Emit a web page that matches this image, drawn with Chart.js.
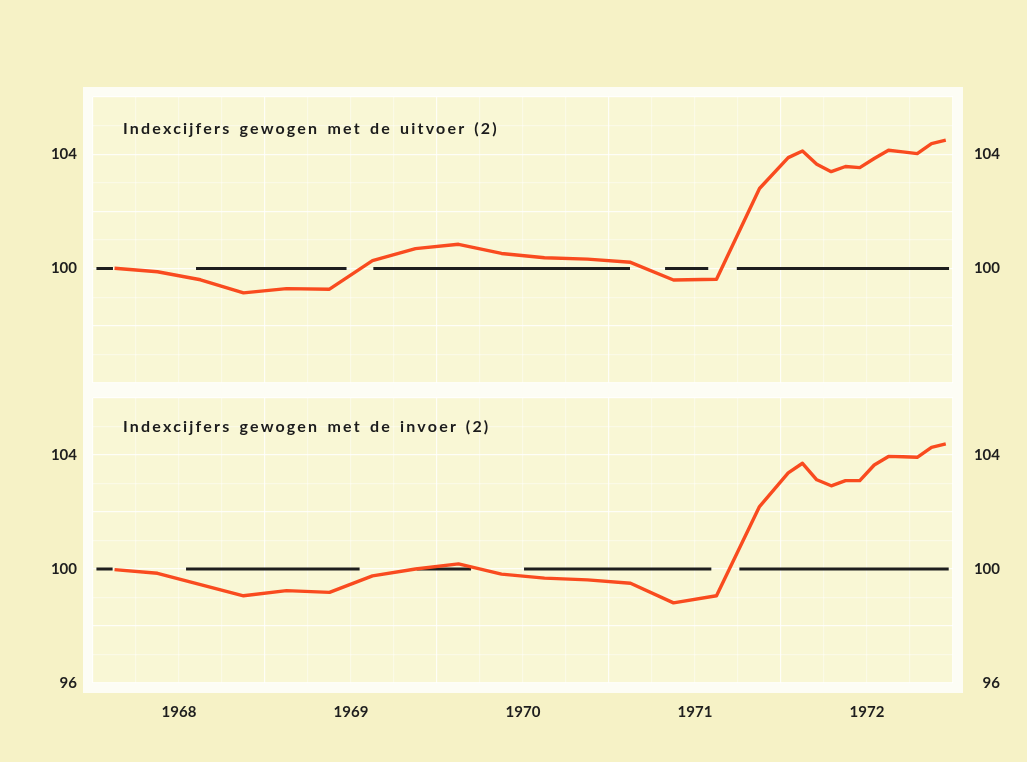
<!DOCTYPE html>
<html>
<head>
<meta charset="utf-8">
<script src="https://cdn.jsdelivr.net/npm/chart.js@4.4.1/dist/chart.umd.min.js"></script>
<style>
  html, body { margin: 0; padding: 0; }
  body { width: 1027px; height: 762px; background: #f6f2c6; position: relative; overflow: hidden; }
  .frame { position: absolute; left: 83px; top: 87px; width: 880px; height: 606px; background: #fdfdf5; }
  .panel { position: absolute; left: 93px; width: 860px; background: #f9f7d5; }
  #panelTop { top: 97px; height: 286px; }
  #panelBottom { top: 398px; height: 285px; }
  canvas { position: absolute; left: 0; }
  #chartTop { top: 80px; }
  #chartBottom { top: 380px; }
  .title { position: absolute; left: 123px; font: bold 16px Lato, sans-serif; line-height: 18px;
           letter-spacing: 2.2px; word-spacing: 2px; color: #1c1c1c; white-space: nowrap; }
  #titleTop { top: 119px; }
  #titleBottom { top: 417px; }
</style>
</head>
<body>
<div class="frame"></div>
<div class="panel" id="panelTop"></div>
<div class="panel" id="panelBottom"></div>
<canvas id="chartTop" width="1027" height="320"></canvas>
<canvas id="chartBottom" width="1027" height="382"></canvas>
<div class="title" id="titleTop">Indexcijfers gewogen met de uitvoer (2)</div>
<div class="title" id="titleBottom">Indexcijfers gewogen met de invoer (2)</div>
<script>
// time axis in decimal years: quarters 1968-1971, months 1972
const periods = [
  1968.125, 1968.375, 1968.625, 1968.875,
  1969.125, 1969.375, 1969.625, 1969.875,
  1970.125, 1970.375, 1970.625, 1970.875,
  1971.125, 1971.375, 1971.625, 1971.875,
  1972.042, 1972.125, 1972.208, 1972.292, 1972.375, 1972.458,
  1972.542, 1972.625, 1972.708, 1972.792, 1972.875, 1972.958
];
const yearLabels = ['1968', '1969', '1970', '1971', '1972'];

const exportWeighted = [
  100.01, 99.89, 99.61, 99.15,
  99.30, 99.28, 100.28, 100.70,
  100.85, 100.53, 100.38, 100.33,
  100.22, 99.60, 99.63, 102.80,
  103.88, 104.11, 103.65, 103.39, 103.57, 103.53,
  103.85, 104.14, 104.08, 104.02, 104.37, 104.49
];
const importWeighted = [
  99.98, 99.85, 99.45, 99.06,
  99.24, 99.18, 99.76, 100.00,
  100.18, 99.82, 99.68, 99.62,
  99.50, 98.81, 99.06, 102.19,
  103.37, 103.71, 103.13, 102.92, 103.10, 103.10,
  103.65, 103.95, 103.94, 103.92, 104.27, 104.39
];

// pieces of the 100 base line (start, end in decimal years)
const baseTop = [[1968.02, 1968.116], [1968.599, 1969.474], [1969.63, 1971.122], [1971.326, 1971.577], [1971.743, 1972.977]];
const baseBottom = [[1968.02, 1968.114], [1968.541, 1969.55], [1969.882, 1970.198], [1970.506, 1971.595], [1971.758, 1972.975]];

const yTicksTop = [104, 100];
const yTicksBottom = [104, 100, 96];

const RED = '#f94b1f';
const INK = '#1e1e1e';
const tickFont = { family: 'Lato', weight: 'bold', size: 15 };

function toPoints(values) {
  return periods.map((p, i) => ({ x: p, y: values[i] }));
}

function basePoints(segments) {
  const pts = [];
  segments.forEach(([a, b]) => {
    pts.push({ x: a, y: 100 }, { x: b, y: 100 }, { x: b, y: null });
  });
  return pts;
}

function buildConfig(values, segments, yTicks, showYears, pad, axisHeight) {
  const yLabel = v => yTicks.includes(v) ? String(v) : '';
  const major = 'rgba(255,255,255,0.8)', minor = 'rgba(255,255,255,0.4)';
  return {
    type: 'line',
    data: {
      datasets: [
        { data: toPoints(values), borderColor: RED, borderWidth: 3.4, pointRadius: 0,
          borderJoinStyle: 'round', tension: 0 },
        { data: basePoints(segments), borderColor: INK, borderWidth: 3, pointRadius: 0,
          spanGaps: false, borderCapStyle: 'butt' }
      ]
    },
    options: {
      responsive: false,
      animation: false,
      layout: { padding: pad },
      plugins: { legend: { display: false }, tooltip: { enabled: false } },
      scales: {
        x: {
          type: 'linear', min: 1968, max: 1973,
          border: { display: false },
          grid: {
            drawTicks: false,
            color: c => (c.tick && c.tick.value % 1 === 0) ? major : minor,
            lineWidth: 1.2
          },
          ticks: {
            display: showYears, stepSize: 0.25, autoSkip: false, maxRotation: 0,
            padding: 20, color: INK, font: tickFont,
            callback: v => (v % 1 === 0.5) ? yearLabels[Math.floor(v) - 1968] : ''
          },
          afterFit: s => { s.height = showYears ? axisHeight : 0; }
        },
        y: {
          min: 96, max: 106,
          border: { display: false },
          // invisible tick marks push the labels out, tick padding would also eat plot height
          grid: {
            drawTicks: true, tickLength: 16, tickColor: 'rgba(0,0,0,0)',
            color: c => (c.tick && c.tick.value % 2 === 0) ? major : minor,
            lineWidth: 1.2
          },
          ticks: { stepSize: 1, autoSkip: false, padding: 0, color: INK, font: tickFont, callback: yLabel },
          afterFit: s => { s.width = 93; }
        },
        y2: {
          position: 'right', min: 96, max: 106,
          border: { display: false },
          grid: { display: false },
          ticks: { stepSize: 1, autoSkip: false, padding: 0, crossAlign: 'far', color: INK, font: tickFont, callback: yLabel },
          afterFit: s => { s.width = 47; }
        }
      }
    }
  };
}

// area = where the plot must sit inside the canvas (px); build once, measure, rebuild
function makePanel(canvasId, values, segments, yTicks, showYears, area) {
  const canvas = document.getElementById(canvasId);
  const height = canvas.height;
  let pad = { top: area.top, bottom: showYears ? 0 : height - area.bottom, left: 0, right: 27 };
  let axisHeight = height - area.bottom;
  const chart = new Chart(canvas, buildConfig(values, segments, yTicks, showYears, pad, axisHeight));
  const ca = chart.chartArea;
  const fixTop = area.top - ca.top;
  const fixBottom = ca.bottom - area.bottom;
  if (!fixTop && !fixBottom) return chart;
  chart.destroy();
  pad = { top: pad.top + fixTop, bottom: showYears ? 0 : pad.bottom + fixBottom, left: 0, right: 27 };
  if (showYears) axisHeight += fixBottom;
  return new Chart(canvas, buildConfig(values, segments, yTicks, showYears, pad, axisHeight));
}

makePanel('chartTop', exportWeighted, baseTop, yTicksTop, false, { top: 17, bottom: 303 });
makePanel('chartBottom', importWeighted, baseBottom, yTicksBottom, true, { top: 18, bottom: 303 });
</script>
</body>
</html>
